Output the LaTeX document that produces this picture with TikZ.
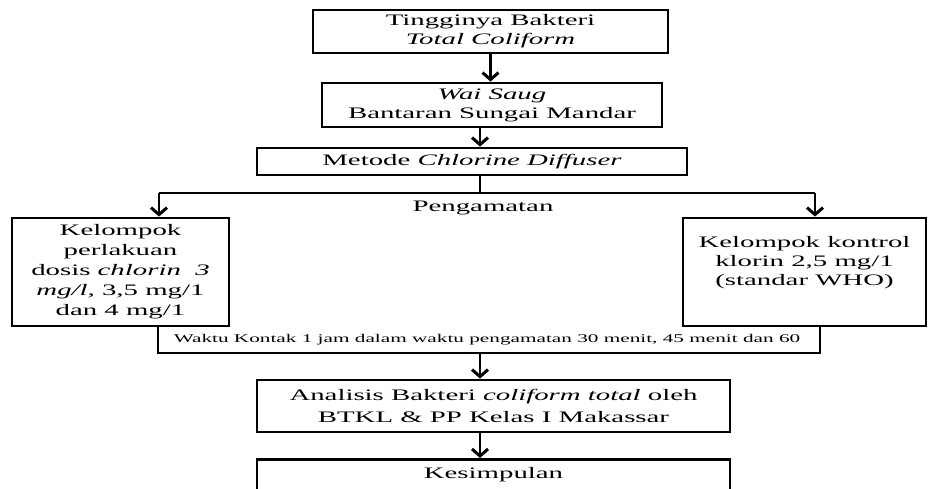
\documentclass[tikz,border=0pt]{standalone}
\usepackage{fontspec}
\setmainfont{Liberation Serif}[FakeStretch=1.8]
\usetikzlibrary{arrows.meta}

\begin{document}
\begin{tikzpicture}[x=1pt,y=-1pt,
    box/.style={draw, line width=2.8pt, fill=white, align=center, inner sep=0pt,
      font=\fontsize{16}{19}\selectfont},
    arr/.style={line width=2.6pt, -{Straight Barb[length=7pt,width=16pt,line width=3pt]}},
    ln/.style={line width=2.6pt}]
    \useasboundingbox (0,0) rectangle (932,488);

    \node[box, minimum width=355pt, minimum height=43pt] (T) at (490.5,31.5) {Tingginya Bakteri\\\textit{Total Coliform}};
    \node[box, minimum width=340pt, minimum height=44pt] (W) at (492,105) {\textit{Wai Saug}\\Bantaran Sungai Mandar};
    \node[box, minimum width=430pt, minimum height=27pt] (M) at (472,161.5) {Metode \textit{Chlorine Diffuser}};

    \coordinate (S) at (480,193);
    \coordinate (SL) at (159,193);
    \coordinate (SR) at (815,193);
    \coordinate (BL) at (158,353);
    \coordinate (BR) at (820,353);

    \draw[ln] (SL) -- (SR);
    \node[font=\fontsize{16}{19}\selectfont] (P) at (483,208) {Pengamatan};

    \node[box, minimum width=217pt, minimum height=108pt, font=\fontsize{16}{20}\selectfont] (KP) at (120.5,272)
        {Kelompok\\perlakuan\\dosis \textit{chlorin}~ \textit{3}\\\textit{mg/l,} 3,5 mg/1\\dan 4 mg/1};
    \node[box, minimum width=243pt, minimum height=108pt, text depth=22pt] (KK) at (804.5,272)
        {Kelompok kontrol\\klorin 2,5 mg/1\\(standar WHO)};

    \draw[ln] (KP.south -| BL) -- (BL) -- (BR) -- (KK.south -| BR);
    \node[font=\fontsize{11.8}{13}\selectfont] (WK) at (487,340)
        {Waktu Kontak 1 jam dalam waktu pengamatan 30 menit, 45 menit dan 60};

    \node[box, minimum width=473pt, minimum height=52pt] (A) at (493.5,406)
        {Analisis Bakteri \textit{coliform total} oleh\\[3pt]BTKL \& PP Kelas I Makassar};
    \node[box, minimum width=473pt, anchor=north, text height=19pt, text depth=20pt] (K) at (493.5,458) {Kesimpulan};

    \draw[arr] (T.south) -- (T.south |- W.north);
    \draw[arr] (W.south -| S) -- (S |- M.north);
    \draw[ln] (M.south -| S) -- (S);
    \draw[arr] (SL) -- (SL |- KP.north);
    \draw[arr] (SR) -- (SR |- KK.north);
    \draw[arr] (BL -| S) -- (S |- A.north);
    \draw[arr] (A.south -| S) -- (S |- K.north);
\end{tikzpicture}
\end{document}
